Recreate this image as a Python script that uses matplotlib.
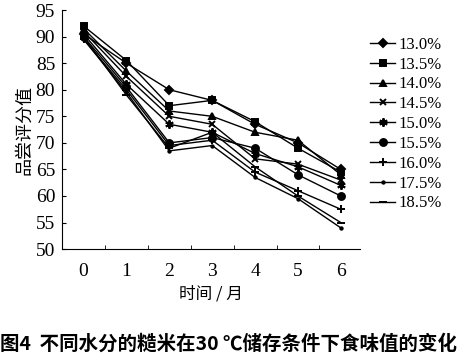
import numpy as np
import matplotlib
matplotlib.use("Agg")
import matplotlib.pyplot as plt

plt.rcParams['font.family'] = ['Liberation Serif', 'Noto Sans CJK SC']

months = [0, 1, 2, 3, 4, 5, 6]
labels = ['13.0%', '13.5%', '14.0%', '14.5%', '15.0%', '15.5%', '16.0%', '17.5%', '18.5%']
s130 = [90.5, 85.0, 80.0, 78.0, 73.5, 70.0, 65.0]
s135 = [92.0, 85.5, 77.0, 78.0, 74.0, 69.0, 64.5]
s140 = [91.5, 83.5, 76.0, 75.0, 72.0, 70.5, 64.0]
s145 = [91.0, 82.5, 75.0, 73.5, 67.0, 66.0, 63.0]
s150 = [90.5, 81.0, 73.5, 72.0, 68.0, 65.5, 62.0]
s155 = [90.0, 80.5, 70.0, 71.0, 69.0, 64.0, 60.0]
s160 = [89.5, 80.0, 69.5, 70.5, 64.5, 61.0, 57.5]
s175 = [89.5, 79.5, 68.5, 69.5, 63.5, 59.5, 54.0]
s185 = [90.0, 79.0, 69.0, 72.0, 65.5, 60.0, 55.0]
series = [s130, s135, s140, s145, s150, s155, s160, s175, s185]
markers = ['D', 's', '^', 'x', (6, 2, 0), 'o', '+', '.', '_']
msizes = [4, 5, 5, 5, 6, 5, 6, 3.5, 6]

fig = plt.figure(figsize=(4.57, 3.6), dpi=100)
ax = fig.add_axes([0.136, 0.308, 0.652, 0.664])
for vals, lab, m, ms in zip(series, labels, markers, msizes):
    ax.plot(months, vals, color='black', lw=1.0, marker=m, ms=ms,
            mew=1.4, label=lab)

ax.set_xlim(-0.5, 6.45)
ax.set_ylim(50, 95)
ax.set_xticks(months)
ax.set_xticks(np.arange(0.5, 6, 1), minor=True)
ax.set_yticks(np.arange(50, 96, 5))
ax.tick_params(axis='x', which='major', length=0, labelsize=14, pad=10)
ax.tick_params(axis='x', which='minor', direction='in', length=3)
ax.tick_params(axis='y', direction='in', length=3, labelsize=14, pad=5)
for sp in ['top', 'right']:
    ax.spines[sp].set_visible(False)
ax.set_xlabel('时间 / 月', fontsize=12, family=['Noto Sans CJK SC'], labelpad=4)
ax.set_ylabel('品尝评分值', fontsize=13, family=['Noto Sans CJK SC'], labelpad=2)

ax.legend(loc='upper left', bbox_to_anchor=(1.0, 0.93), frameon=False,
          fontsize=12, handlelength=1.5, handletextpad=0.2, labelspacing=0.23,
          borderaxespad=0.2)

fig.text(0.5, 0.045, '图4  不同水分的糙米在30 ℃储存条件下食味值的变化',
         ha='center', va='center', fontsize=14, fontweight='bold',
         family=['Noto Sans CJK SC'])

fig.savefig('out.png', dpi=100)
